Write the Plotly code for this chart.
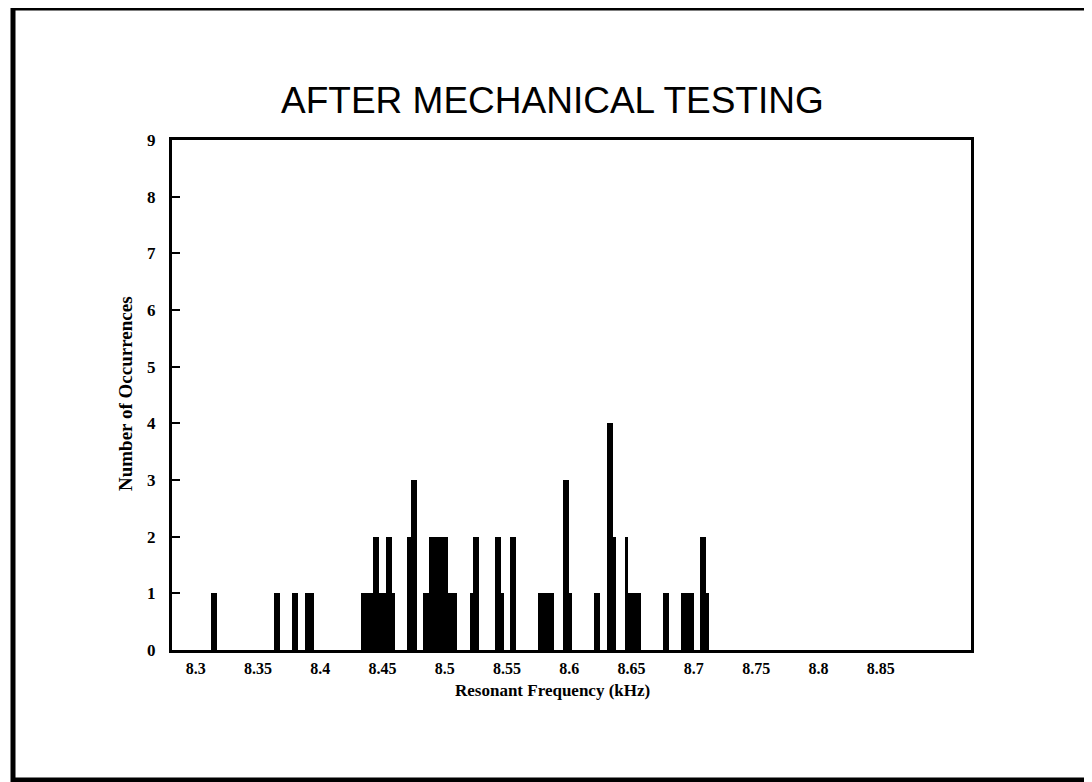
import plotly.graph_objects as go

# ---- data ----
BIN = 0.0025  # kHz bin width
bin_start = [
    8.3125, 8.315,
    8.3625, 8.365,
    8.3775, 8.38,
    8.3875, 8.39, 8.3925,
    8.4325, 8.435, 8.4375, 8.44, 8.4425, 8.445, 8.4475, 8.45, 8.4525, 8.455, 8.4575,
    8.47, 8.4725, 8.475,
    8.4825, 8.485, 8.4875, 8.49, 8.4925, 8.495, 8.4975, 8.5, 8.5025, 8.505, 8.5075,
    8.52, 8.5225, 8.525,
    8.54, 8.5425, 8.545,
    8.5525, 8.555,
    8.575, 8.5775, 8.58, 8.5825, 8.585,
    8.595, 8.5975, 8.6,
    8.62, 8.6225,
    8.63, 8.6325, 8.635,
    8.645, 8.6475, 8.65, 8.6525, 8.655,
    8.675, 8.6775,
    8.69, 8.6925, 8.695, 8.6975,
    8.705, 8.7075, 8.71,
]
counts = [
    1, 1,
    1, 1,
    1, 1,
    1, 1, 1,
    1, 1, 1, 1, 2, 2, 1, 1, 2, 2, 1,
    2, 3, 3,
    1, 1, 2, 2, 2, 2, 2, 2, 1, 1, 1,
    1, 2, 2,
    2, 2, 1,
    2, 2,
    1, 1, 1, 1, 1,
    3, 3, 1,
    1, 1,
    4, 4, 2,
    2, 1, 1, 1, 1,
    1, 1,
    1, 1, 1, 1,
    2, 2, 1,
]
x_ticks = [8.3, 8.35, 8.4, 8.45, 8.5, 8.55, 8.6, 8.65, 8.7, 8.75, 8.8, 8.85]
x_tick_labels = ["8.3", "8.35", "8.4", "8.45", "8.5", "8.55", "8.6", "8.65", "8.7", "8.75", "8.8", "8.85"]
y_ticks = list(range(0, 10))

centers = [s + BIN / 2 for s in bin_start]

# plot-area pixel geometry (screen coordinates) used to place annotations
PL, PR, PT, PB = 172, 971, 140, 650
PW, PH = PR - PL, PB - PT


def px(x):
    return (x - PL) / PW


def py(y):
    return (PB - y) / PH


SERIF = "Liberation Serif, Times New Roman, serif"

fig = go.Figure(
    go.Bar(
        x=centers,
        y=counts,
        width=BIN,
        marker=dict(color="black", line=dict(width=0)),
        showlegend=False,
    )
)

fig.update_layout(
    width=1084,
    height=774,
    margin=dict(l=PL - 8, r=1084 - (PR - 8), t=PT - 8, b=774 - (PB - 8)),
    paper_bgcolor="white",
    plot_bgcolor="white",
    bargap=0,
    xaxis=dict(
        range=[8.281, 8.9225],
        tickmode="array",
        tickvals=x_ticks,
        ticktext=x_tick_labels,
        ticks="",
        tickfont=dict(family=SERIF, size=16, color="black", weight="bold"),
        ticklabelstandoff=2,
        showgrid=False,
        zeroline=False,
        showline=True,
        linecolor="black",
        linewidth=3,
        mirror=True,
    ),
    yaxis=dict(
        range=[0, 9],
        tickmode="array",
        tickvals=y_ticks,
        ticks="inside",
        ticklen=8,
        tickwidth=1.5,
        tickcolor="black",
        tickfont=dict(family=SERIF, size=17, color="black", weight="bold"),
        ticklabelstandoff=10,
        showgrid=False,
        zeroline=False,
        showline=True,
        linecolor="black",
        linewidth=3,
        mirror=True,
    ),
    annotations=[
        dict(
            text="AFTER MECHANICAL TESTING",
            xref="paper", yref="paper",
            x=px(552), y=py(100),
            xanchor="center", yanchor="middle",
            showarrow=False,
            font=dict(family="Liberation Sans, Arial, sans-serif", size=37, color="black"),
        ),
        dict(
            text="Resonant Frequency (kHz)",
            xref="paper", yref="paper",
            x=px(552), y=py(690),
            xanchor="center", yanchor="middle",
            showarrow=False,
            font=dict(family=SERIF, size=17, color="black", weight="bold"),
        ),
        dict(
            text="Number of Occurrences",
            xref="paper", yref="paper",
            x=px(125), y=py(394),
            xanchor="center", yanchor="middle",
            textangle=-90,
            showarrow=False,
            font=dict(family=SERIF, size=19, color="black", weight="bold"),
        ),
    ],
    shapes=[
        dict(
            type="rect",
            xref="paper", yref="paper",
            x0=px(13), x1=px(1088),
            y0=py(780), y1=py(8),
            line=dict(color="black", width=5),
            fillcolor="rgba(0,0,0,0)",
            layer="above",
        )
    ],
)

fig.write_html("out.html")
